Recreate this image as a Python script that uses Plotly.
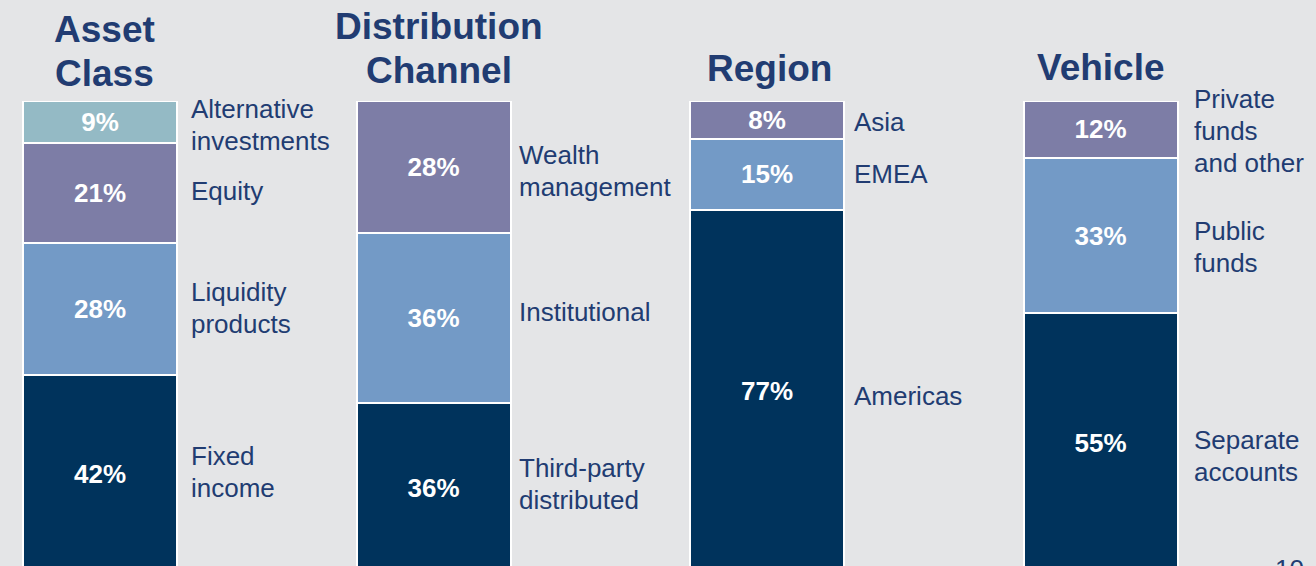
import plotly.graph_objects as go

# ---- data ----
groups = ["Asset Class", "Distribution Channel", "Region", "Vehicle"]
group_titles = [["Asset", "Class"], ["Distribution", "Channel"], ["Region"], ["Vehicle"]]

# segments listed bottom -> top for each group
seg_labels = [
    [["Fixed", "income"], ["Liquidity", "products"], ["Equity"], ["Alternative", "investments"]],
    [["Third-party", "distributed"], ["Institutional"], ["Wealth", "management"]],
    [["Americas"], ["EMEA"], ["Asia"]],
    [["Separate", "accounts"], ["Public", "funds"], ["Private", "funds", "and other"]],
]
seg_values = [
    [42, 28, 21, 9],
    [36, 36, 28],
    [77, 15, 8],
    [55, 33, 12],
]
page_number = "10"

# ---- style ----
BG = "#e4e5e7"
TEXT = "#213c72"
level_colors = ["#00335c", "#739ac6", "#7d7da6", "#94bac5"]
FONT = "Arial, Liberation Sans, sans-serif"
LINE_H = 32            # px between label lines
TITLE_LINE_H = 44      # px between title lines
label_xshift = [89, 83, 85, 91]
title_xshift = [4, 5, 2, 0]
title_center_shift = [28, 31, 33, 34]   # px above bar top for the last title line
# px nudges (positive = up) of the side labels relative to their segment centre
label_nudge = [
    [2, 1, 2, -3],
    [4, 6, -4],
    [-5, 0, -2],
    [-13, -11, -2],
]

fig = go.Figure()
n_levels = max(len(v) for v in seg_values)
for lvl in range(n_levels):
    xs, ys, txt = [], [], []
    for g, vals in zip(groups, seg_values):
        if lvl < len(vals):
            xs.append(g)
            ys.append(vals[lvl])
            txt.append(f"{vals[lvl]}%")
    fig.add_trace(go.Bar(
        x=xs, y=ys, text=txt,
        textposition="inside", insidetextanchor="middle", textangle=0,
        constraintext="none",
        textfont=dict(family=FONT, size=26, color="white", weight="bold"),
        marker=dict(color=level_colors[lvl], line=dict(color="white", width=2)),
        hoverinfo="skip", showlegend=False,
    ))

annotations = []
for gi, (g, labels, vals) in enumerate(zip(groups, seg_labels, seg_values)):
    cum = 0
    for si, (lines, v) in enumerate(zip(labels, vals)):
        mid = cum + v / 2
        cum += v
        n = len(lines)
        for li, line in enumerate(lines):
            offset = (li - (n - 1) / 2) * LINE_H   # px downwards
            annotations.append(dict(
                x=g, y=mid, xref="x", yref="y", text=line, showarrow=False,
                xanchor="left", yanchor="middle", align="left",
                xshift=label_xshift[gi], yshift=-(offset) + label_nudge[gi][si],
                font=dict(family=FONT, size=26, color=TEXT),
            ))
    tl = group_titles[gi]
    for li, line in enumerate(tl):
        up = (len(tl) - 1 - li) * TITLE_LINE_H
        annotations.append(dict(
            x=g, y=cum, xref="x", yref="y", text=line,
            showarrow=False, xanchor="center", yanchor="middle",
            xshift=title_xshift[gi], yshift=title_center_shift[gi] + up,
            font=dict(family=FONT, size=37, color=TEXT, weight="bold"),
        ))

annotations.append(dict(
    xref="paper", yref="paper", x=0.98, y=0.03, text=page_number, showarrow=False,
    xanchor="center", yanchor="top", font=dict(family=FONT, size=26, color=TEXT),
))

fig.update_layout(
    width=1316, height=566,
    margin=dict(l=0, r=0, t=101, b=0),
    paper_bgcolor=BG, plot_bgcolor=BG,
    barmode="stack", bargap=0.538,
    xaxis=dict(range=[-0.30, 3.646], visible=False, type="category"),
    yaxis=dict(range=[1.48, 100], visible=False),
    annotations=annotations,
)

fig.write_html("out.html", config={"displayModeBar": False},
               post_script="document.body.style.margin='0';")
